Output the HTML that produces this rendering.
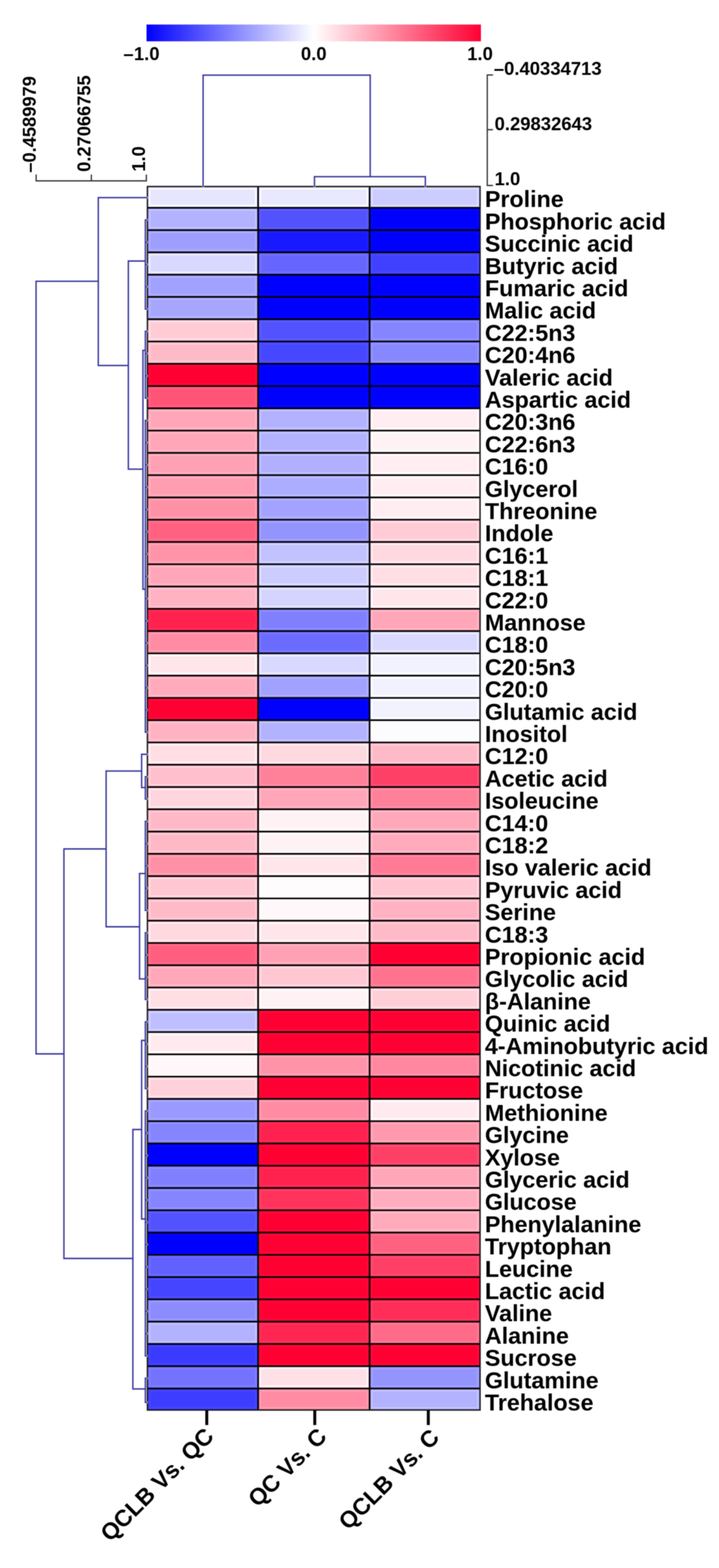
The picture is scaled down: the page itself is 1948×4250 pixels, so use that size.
<!DOCTYPE html>
<html><head><meta charset="utf-8"><title>Heatmap</title>
<style>
html,body{margin:0;padding:0;background:#fff;}
body{width:1948px;height:4250px;overflow:hidden;}
svg{display:block;filter:blur(1px);}
</style></head>
<body>
<svg width="1948" height="4250" viewBox="0 0 1948 4250">
<rect width="1948" height="4250" fill="#fff"/>
<defs><linearGradient id="cb" x1="0" y1="0" x2="1" y2="0"><stop offset="0" stop-color="#0000ff"/><stop offset="0.5" stop-color="#ffffff"/><stop offset="1" stop-color="#ff0033"/></linearGradient></defs>
<rect x="397" y="66.5" width="906" height="45.5" fill="url(#cb)"/>
<rect x="399.40" y="505.60" width="299.90" height="57.70" fill="#e6e6ff"/>
<rect x="699.30" y="505.60" width="302.10" height="57.70" fill="#e8e8ff"/>
<rect x="1001.40" y="505.60" width="299.20" height="57.70" fill="#ccccff"/>
<rect x="399.40" y="563.30" width="299.90" height="60.38" fill="#b2b2ff"/>
<rect x="699.30" y="563.30" width="302.10" height="60.38" fill="#5252ff"/>
<rect x="1001.40" y="563.30" width="299.20" height="60.38" fill="#0000ff"/>
<rect x="399.40" y="623.68" width="299.90" height="60.38" fill="#9e9eff"/>
<rect x="699.30" y="623.68" width="302.10" height="60.38" fill="#1919ff"/>
<rect x="1001.40" y="623.68" width="299.20" height="60.38" fill="#0000ff"/>
<rect x="399.40" y="684.06" width="299.90" height="60.38" fill="#d9d9ff"/>
<rect x="699.30" y="684.06" width="302.10" height="60.38" fill="#6666ff"/>
<rect x="1001.40" y="684.06" width="299.20" height="60.38" fill="#4040ff"/>
<rect x="399.40" y="744.44" width="299.90" height="60.38" fill="#a1a1ff"/>
<rect x="699.30" y="744.44" width="302.10" height="60.38" fill="#0000ff"/>
<rect x="1001.40" y="744.44" width="299.20" height="60.38" fill="#0000ff"/>
<rect x="399.40" y="804.82" width="299.90" height="60.38" fill="#a6a6ff"/>
<rect x="699.30" y="804.82" width="302.10" height="60.38" fill="#0000ff"/>
<rect x="1001.40" y="804.82" width="299.20" height="60.38" fill="#0000ff"/>
<rect x="399.40" y="865.20" width="299.90" height="60.38" fill="#ffccd6"/>
<rect x="699.30" y="865.20" width="302.10" height="60.38" fill="#5252ff"/>
<rect x="1001.40" y="865.20" width="299.20" height="60.38" fill="#8585ff"/>
<rect x="399.40" y="925.58" width="299.90" height="60.38" fill="#ffbac8"/>
<rect x="699.30" y="925.58" width="302.10" height="60.38" fill="#4747ff"/>
<rect x="1001.40" y="925.58" width="299.20" height="60.38" fill="#8787ff"/>
<rect x="399.40" y="985.96" width="299.90" height="60.38" fill="#ff0033"/>
<rect x="699.30" y="985.96" width="302.10" height="60.38" fill="#0000ff"/>
<rect x="1001.40" y="985.96" width="299.20" height="60.38" fill="#0000ff"/>
<rect x="399.40" y="1046.34" width="299.90" height="60.38" fill="#ff5476"/>
<rect x="699.30" y="1046.34" width="302.10" height="60.38" fill="#0000ff"/>
<rect x="1001.40" y="1046.34" width="299.20" height="60.38" fill="#0000ff"/>
<rect x="399.40" y="1106.72" width="299.90" height="60.38" fill="#ffa6b8"/>
<rect x="699.30" y="1106.72" width="302.10" height="60.38" fill="#b2b2ff"/>
<rect x="1001.40" y="1106.72" width="299.20" height="60.38" fill="#ffedf1"/>
<rect x="399.40" y="1167.10" width="299.90" height="60.38" fill="#ffa6b8"/>
<rect x="699.30" y="1167.10" width="302.10" height="60.38" fill="#b2b2ff"/>
<rect x="1001.40" y="1167.10" width="299.20" height="60.38" fill="#fff2f5"/>
<rect x="399.40" y="1227.48" width="299.90" height="60.38" fill="#ffa1b4"/>
<rect x="699.30" y="1227.48" width="302.10" height="60.38" fill="#b0b0ff"/>
<rect x="1001.40" y="1227.48" width="299.20" height="60.38" fill="#ffedf1"/>
<rect x="399.40" y="1287.86" width="299.90" height="60.38" fill="#ff9eb1"/>
<rect x="699.30" y="1287.86" width="302.10" height="60.38" fill="#adadff"/>
<rect x="1001.40" y="1287.86" width="299.20" height="60.38" fill="#ffedf1"/>
<rect x="399.40" y="1348.24" width="299.90" height="60.38" fill="#ff91a7"/>
<rect x="699.30" y="1348.24" width="302.10" height="60.38" fill="#a3a3ff"/>
<rect x="1001.40" y="1348.24" width="299.20" height="60.38" fill="#ffedf1"/>
<rect x="399.40" y="1408.62" width="299.90" height="60.38" fill="#ff6181"/>
<rect x="699.30" y="1408.62" width="302.10" height="60.38" fill="#9494ff"/>
<rect x="1001.40" y="1408.62" width="299.20" height="60.38" fill="#ffccd6"/>
<rect x="399.40" y="1469.00" width="299.90" height="60.38" fill="#ff94a9"/>
<rect x="699.30" y="1469.00" width="302.10" height="60.38" fill="#c2c2ff"/>
<rect x="1001.40" y="1469.00" width="299.20" height="60.38" fill="#ffd9e0"/>
<rect x="399.40" y="1529.38" width="299.90" height="60.38" fill="#ffa6b8"/>
<rect x="699.30" y="1529.38" width="302.10" height="60.38" fill="#ccccff"/>
<rect x="1001.40" y="1529.38" width="299.20" height="60.38" fill="#ffdee4"/>
<rect x="399.40" y="1589.76" width="299.90" height="60.38" fill="#ffb2c2"/>
<rect x="699.30" y="1589.76" width="302.10" height="60.38" fill="#d4d4ff"/>
<rect x="1001.40" y="1589.76" width="299.20" height="60.38" fill="#ffe6eb"/>
<rect x="399.40" y="1650.14" width="299.90" height="60.38" fill="#ff214e"/>
<rect x="699.30" y="1650.14" width="302.10" height="60.38" fill="#8080ff"/>
<rect x="1001.40" y="1650.14" width="299.20" height="60.38" fill="#ffa6b8"/>
<rect x="399.40" y="1710.52" width="299.90" height="60.38" fill="#ff8ca3"/>
<rect x="699.30" y="1710.52" width="302.10" height="60.38" fill="#6b6bff"/>
<rect x="1001.40" y="1710.52" width="299.20" height="60.38" fill="#d9d9ff"/>
<rect x="399.40" y="1770.90" width="299.90" height="60.38" fill="#ffe6eb"/>
<rect x="699.30" y="1770.90" width="302.10" height="60.38" fill="#d9d9ff"/>
<rect x="1001.40" y="1770.90" width="299.20" height="60.38" fill="#f2f2ff"/>
<rect x="399.40" y="1831.28" width="299.90" height="60.38" fill="#ffabbc"/>
<rect x="699.30" y="1831.28" width="302.10" height="60.38" fill="#a1a1ff"/>
<rect x="1001.40" y="1831.28" width="299.20" height="60.38" fill="#f2f2ff"/>
<rect x="399.40" y="1891.66" width="299.90" height="60.38" fill="#ff0033"/>
<rect x="699.30" y="1891.66" width="302.10" height="60.38" fill="#0000ff"/>
<rect x="1001.40" y="1891.66" width="299.20" height="60.38" fill="#f2f2ff"/>
<rect x="399.40" y="1952.04" width="299.90" height="60.38" fill="#ffb2c2"/>
<rect x="699.30" y="1952.04" width="302.10" height="60.38" fill="#b2b2ff"/>
<rect x="1001.40" y="1952.04" width="299.20" height="60.38" fill="#fcfcff"/>
<rect x="399.40" y="2012.42" width="299.90" height="60.38" fill="#ffdee4"/>
<rect x="699.30" y="2012.42" width="302.10" height="60.38" fill="#ffd9e0"/>
<rect x="1001.40" y="2012.42" width="299.20" height="60.38" fill="#ffbac8"/>
<rect x="399.40" y="2072.80" width="299.90" height="60.38" fill="#ffbfcc"/>
<rect x="699.30" y="2072.80" width="302.10" height="60.38" fill="#ff8099"/>
<rect x="1001.40" y="2072.80" width="299.20" height="60.38" fill="#ff4066"/>
<rect x="399.40" y="2133.18" width="299.90" height="60.38" fill="#ffd6de"/>
<rect x="699.30" y="2133.18" width="302.10" height="60.38" fill="#ffa6b8"/>
<rect x="1001.40" y="2133.18" width="299.20" height="60.38" fill="#ff8099"/>
<rect x="399.40" y="2193.56" width="299.90" height="60.38" fill="#ffb8c6"/>
<rect x="699.30" y="2193.56" width="302.10" height="60.38" fill="#fff2f5"/>
<rect x="1001.40" y="2193.56" width="299.20" height="60.38" fill="#ffa8ba"/>
<rect x="399.40" y="2253.94" width="299.90" height="60.38" fill="#ffb8c6"/>
<rect x="699.30" y="2253.94" width="302.10" height="60.38" fill="#fff2f5"/>
<rect x="1001.40" y="2253.94" width="299.20" height="60.38" fill="#ffabbc"/>
<rect x="399.40" y="2314.32" width="299.90" height="60.38" fill="#ff91a7"/>
<rect x="699.30" y="2314.32" width="302.10" height="60.38" fill="#ffe6eb"/>
<rect x="1001.40" y="2314.32" width="299.20" height="60.38" fill="#ff7a95"/>
<rect x="399.40" y="2374.70" width="299.90" height="60.38" fill="#ffc7d2"/>
<rect x="699.30" y="2374.70" width="302.10" height="60.38" fill="#fffcfd"/>
<rect x="1001.40" y="2374.70" width="299.20" height="60.38" fill="#ffc7d2"/>
<rect x="399.40" y="2435.08" width="299.90" height="60.38" fill="#ffbac8"/>
<rect x="699.30" y="2435.08" width="302.10" height="60.38" fill="#fff7f9"/>
<rect x="1001.40" y="2435.08" width="299.20" height="60.38" fill="#ffb2c2"/>
<rect x="399.40" y="2495.46" width="299.90" height="60.38" fill="#ffd9e0"/>
<rect x="699.30" y="2495.46" width="302.10" height="60.38" fill="#ffe6eb"/>
<rect x="1001.40" y="2495.46" width="299.20" height="60.38" fill="#ffbac8"/>
<rect x="399.40" y="2555.84" width="299.90" height="60.38" fill="#ff5e7e"/>
<rect x="699.30" y="2555.84" width="302.10" height="60.38" fill="#ffa1b4"/>
<rect x="1001.40" y="2555.84" width="299.20" height="60.38" fill="#ff0033"/>
<rect x="399.40" y="2616.22" width="299.90" height="60.38" fill="#ffa8ba"/>
<rect x="699.30" y="2616.22" width="302.10" height="60.38" fill="#ffc7d2"/>
<rect x="1001.40" y="2616.22" width="299.20" height="60.38" fill="#ff738f"/>
<rect x="399.40" y="2676.60" width="299.90" height="60.38" fill="#ffdee4"/>
<rect x="699.30" y="2676.60" width="302.10" height="60.38" fill="#fff2f5"/>
<rect x="1001.40" y="2676.60" width="299.20" height="60.38" fill="#ffcfd8"/>
<rect x="399.40" y="2736.98" width="299.90" height="60.38" fill="#bfbfff"/>
<rect x="699.30" y="2736.98" width="302.10" height="60.38" fill="#ff0033"/>
<rect x="1001.40" y="2736.98" width="299.20" height="60.38" fill="#ff0033"/>
<rect x="399.40" y="2797.36" width="299.90" height="60.38" fill="#ffebef"/>
<rect x="699.30" y="2797.36" width="302.10" height="60.38" fill="#ff0033"/>
<rect x="1001.40" y="2797.36" width="299.20" height="60.38" fill="#ff0033"/>
<rect x="399.40" y="2857.74" width="299.90" height="60.38" fill="#fff7f9"/>
<rect x="699.30" y="2857.74" width="302.10" height="60.38" fill="#ff94a9"/>
<rect x="1001.40" y="2857.74" width="299.20" height="60.38" fill="#ff879f"/>
<rect x="399.40" y="2918.12" width="299.90" height="60.38" fill="#ffd1da"/>
<rect x="699.30" y="2918.12" width="302.10" height="60.38" fill="#ff0033"/>
<rect x="1001.40" y="2918.12" width="299.20" height="60.38" fill="#ff0033"/>
<rect x="399.40" y="2978.50" width="299.90" height="60.38" fill="#9999ff"/>
<rect x="699.30" y="2978.50" width="302.10" height="60.38" fill="#ff8ca3"/>
<rect x="1001.40" y="2978.50" width="299.20" height="60.38" fill="#ffebef"/>
<rect x="399.40" y="3038.88" width="299.90" height="60.38" fill="#8585ff"/>
<rect x="699.30" y="3038.88" width="302.10" height="60.38" fill="#ff214e"/>
<rect x="1001.40" y="3038.88" width="299.20" height="60.38" fill="#ff99ad"/>
<rect x="399.40" y="3099.26" width="299.90" height="60.38" fill="#0000ff"/>
<rect x="699.30" y="3099.26" width="302.10" height="60.38" fill="#ff0033"/>
<rect x="1001.40" y="3099.26" width="299.20" height="60.38" fill="#ff4066"/>
<rect x="399.40" y="3159.64" width="299.90" height="60.38" fill="#8080ff"/>
<rect x="699.30" y="3159.64" width="302.10" height="60.38" fill="#ff214e"/>
<rect x="1001.40" y="3159.64" width="299.20" height="60.38" fill="#ffa6b8"/>
<rect x="399.40" y="3220.02" width="299.90" height="60.38" fill="#8585ff"/>
<rect x="699.30" y="3220.02" width="302.10" height="60.38" fill="#ff335c"/>
<rect x="1001.40" y="3220.02" width="299.20" height="60.38" fill="#ffadbe"/>
<rect x="399.40" y="3280.40" width="299.90" height="60.38" fill="#5252ff"/>
<rect x="699.30" y="3280.40" width="302.10" height="60.38" fill="#ff0033"/>
<rect x="1001.40" y="3280.40" width="299.20" height="60.38" fill="#ffabbc"/>
<rect x="399.40" y="3340.78" width="299.90" height="60.38" fill="#0000ff"/>
<rect x="699.30" y="3340.78" width="302.10" height="60.38" fill="#ff0033"/>
<rect x="1001.40" y="3340.78" width="299.20" height="60.38" fill="#ff6181"/>
<rect x="399.40" y="3401.16" width="299.90" height="60.38" fill="#6161ff"/>
<rect x="699.30" y="3401.16" width="302.10" height="60.38" fill="#ff0033"/>
<rect x="1001.40" y="3401.16" width="299.20" height="60.38" fill="#ff4066"/>
<rect x="399.40" y="3461.54" width="299.90" height="60.38" fill="#4545ff"/>
<rect x="699.30" y="3461.54" width="302.10" height="60.38" fill="#ff0033"/>
<rect x="1001.40" y="3461.54" width="299.20" height="60.38" fill="#ff0033"/>
<rect x="399.40" y="3521.92" width="299.90" height="60.38" fill="#8c8cff"/>
<rect x="699.30" y="3521.92" width="302.10" height="60.38" fill="#ff0033"/>
<rect x="1001.40" y="3521.92" width="299.20" height="60.38" fill="#ff2e58"/>
<rect x="399.40" y="3582.30" width="299.90" height="60.38" fill="#b2b2ff"/>
<rect x="699.30" y="3582.30" width="302.10" height="60.38" fill="#ff2652"/>
<rect x="1001.40" y="3582.30" width="299.20" height="60.38" fill="#ff6b89"/>
<rect x="399.40" y="3642.68" width="299.90" height="60.38" fill="#3b3bff"/>
<rect x="699.30" y="3642.68" width="302.10" height="60.38" fill="#ff0033"/>
<rect x="1001.40" y="3642.68" width="299.20" height="60.38" fill="#ff0033"/>
<rect x="399.40" y="3703.06" width="299.90" height="60.38" fill="#7373ff"/>
<rect x="699.30" y="3703.06" width="302.10" height="60.38" fill="#ffe0e7"/>
<rect x="1001.40" y="3703.06" width="299.20" height="60.38" fill="#9494ff"/>
<rect x="399.40" y="3763.44" width="299.90" height="58.36" fill="#3d3dff"/>
<rect x="699.30" y="3763.44" width="302.10" height="58.36" fill="#ff8ca3"/>
<rect x="1001.40" y="3763.44" width="299.20" height="58.36" fill="#b2b2ff"/>
<rect x="406.00" y="512.20" width="286.70" height="44.50" fill="none" stroke="#fdfdff" stroke-width="3.4"/>
<rect x="705.90" y="512.20" width="288.90" height="44.50" fill="none" stroke="#ffffff" stroke-width="3.4"/>
<rect x="1008.00" y="512.20" width="286.00" height="44.50" fill="none" stroke="#e1e1ff" stroke-width="3.4"/>
<rect x="406.00" y="569.90" width="286.70" height="47.18" fill="none" stroke="#c5c5ff" stroke-width="3.4"/>
<rect x="705.90" y="569.90" width="288.90" height="47.18" fill="none" stroke="#5d5dff" stroke-width="3.4"/>
<rect x="1008.00" y="569.90" width="286.00" height="47.18" fill="none" stroke="#0404ff" stroke-width="3.4"/>
<rect x="406.00" y="630.28" width="286.70" height="47.18" fill="none" stroke="#afafff" stroke-width="3.4"/>
<rect x="705.90" y="630.28" width="288.90" height="47.18" fill="none" stroke="#1f1fff" stroke-width="3.4"/>
<rect x="1008.00" y="630.28" width="286.00" height="47.18" fill="none" stroke="#0404ff" stroke-width="3.4"/>
<rect x="406.00" y="690.66" width="286.70" height="47.18" fill="none" stroke="#efefff" stroke-width="3.4"/>
<rect x="705.90" y="690.66" width="288.90" height="47.18" fill="none" stroke="#7272ff" stroke-width="3.4"/>
<rect x="1008.00" y="690.66" width="286.00" height="47.18" fill="none" stroke="#4949ff" stroke-width="3.4"/>
<rect x="406.00" y="751.04" width="286.70" height="47.18" fill="none" stroke="#b2b2ff" stroke-width="3.4"/>
<rect x="705.90" y="751.04" width="288.90" height="47.18" fill="none" stroke="#0404ff" stroke-width="3.4"/>
<rect x="1008.00" y="751.04" width="286.00" height="47.18" fill="none" stroke="#0404ff" stroke-width="3.4"/>
<rect x="406.00" y="811.42" width="286.70" height="47.18" fill="none" stroke="#b8b8ff" stroke-width="3.4"/>
<rect x="705.90" y="811.42" width="288.90" height="47.18" fill="none" stroke="#0404ff" stroke-width="3.4"/>
<rect x="1008.00" y="811.42" width="286.00" height="47.18" fill="none" stroke="#0404ff" stroke-width="3.4"/>
<rect x="406.00" y="871.80" width="286.70" height="47.18" fill="none" stroke="#ffe2ec" stroke-width="3.4"/>
<rect x="705.90" y="871.80" width="288.90" height="47.18" fill="none" stroke="#5d5dff" stroke-width="3.4"/>
<rect x="1008.00" y="871.80" width="286.00" height="47.18" fill="none" stroke="#9494ff" stroke-width="3.4"/>
<rect x="406.00" y="932.18" width="286.70" height="47.18" fill="none" stroke="#ffcfdd" stroke-width="3.4"/>
<rect x="705.90" y="932.18" width="288.90" height="47.18" fill="none" stroke="#5151ff" stroke-width="3.4"/>
<rect x="1008.00" y="932.18" width="286.00" height="47.18" fill="none" stroke="#9696ff" stroke-width="3.4"/>
<rect x="406.00" y="992.56" width="286.70" height="47.18" fill="none" stroke="#ff093c" stroke-width="3.4"/>
<rect x="705.90" y="992.56" width="288.90" height="47.18" fill="none" stroke="#0404ff" stroke-width="3.4"/>
<rect x="1008.00" y="992.56" width="286.00" height="47.18" fill="none" stroke="#0404ff" stroke-width="3.4"/>
<rect x="406.00" y="1052.94" width="286.70" height="47.18" fill="none" stroke="#ff6284" stroke-width="3.4"/>
<rect x="705.90" y="1052.94" width="288.90" height="47.18" fill="none" stroke="#0404ff" stroke-width="3.4"/>
<rect x="1008.00" y="1052.94" width="286.00" height="47.18" fill="none" stroke="#0404ff" stroke-width="3.4"/>
<rect x="406.00" y="1113.32" width="286.70" height="47.18" fill="none" stroke="#ffb9cb" stroke-width="3.4"/>
<rect x="705.90" y="1113.32" width="288.90" height="47.18" fill="none" stroke="#c5c5ff" stroke-width="3.4"/>
<rect x="1008.00" y="1113.32" width="286.00" height="47.18" fill="none" stroke="#ffffff" stroke-width="3.4"/>
<rect x="406.00" y="1173.70" width="286.70" height="47.18" fill="none" stroke="#ffb9cb" stroke-width="3.4"/>
<rect x="705.90" y="1173.70" width="288.90" height="47.18" fill="none" stroke="#c5c5ff" stroke-width="3.4"/>
<rect x="1008.00" y="1173.70" width="286.00" height="47.18" fill="none" stroke="#ffffff" stroke-width="3.4"/>
<rect x="406.00" y="1234.08" width="286.70" height="47.18" fill="none" stroke="#ffb4c7" stroke-width="3.4"/>
<rect x="705.90" y="1234.08" width="288.90" height="47.18" fill="none" stroke="#c3c3ff" stroke-width="3.4"/>
<rect x="1008.00" y="1234.08" width="286.00" height="47.18" fill="none" stroke="#ffffff" stroke-width="3.4"/>
<rect x="406.00" y="1294.46" width="286.70" height="47.18" fill="none" stroke="#ffb1c4" stroke-width="3.4"/>
<rect x="705.90" y="1294.46" width="288.90" height="47.18" fill="none" stroke="#bfbfff" stroke-width="3.4"/>
<rect x="1008.00" y="1294.46" width="286.00" height="47.18" fill="none" stroke="#ffffff" stroke-width="3.4"/>
<rect x="406.00" y="1354.84" width="286.70" height="47.18" fill="none" stroke="#ffa3b9" stroke-width="3.4"/>
<rect x="705.90" y="1354.84" width="288.90" height="47.18" fill="none" stroke="#b4b4ff" stroke-width="3.4"/>
<rect x="1008.00" y="1354.84" width="286.00" height="47.18" fill="none" stroke="#ffffff" stroke-width="3.4"/>
<rect x="406.00" y="1415.22" width="286.70" height="47.18" fill="none" stroke="#ff7090" stroke-width="3.4"/>
<rect x="705.90" y="1415.22" width="288.90" height="47.18" fill="none" stroke="#a4a4ff" stroke-width="3.4"/>
<rect x="1008.00" y="1415.22" width="286.00" height="47.18" fill="none" stroke="#ffe2ec" stroke-width="3.4"/>
<rect x="406.00" y="1475.60" width="286.70" height="47.18" fill="none" stroke="#ffa6bb" stroke-width="3.4"/>
<rect x="705.90" y="1475.60" width="288.90" height="47.18" fill="none" stroke="#d6d6ff" stroke-width="3.4"/>
<rect x="1008.00" y="1475.60" width="286.00" height="47.18" fill="none" stroke="#fff0f7" stroke-width="3.4"/>
<rect x="406.00" y="1535.98" width="286.70" height="47.18" fill="none" stroke="#ffb9cb" stroke-width="3.4"/>
<rect x="705.90" y="1535.98" width="288.90" height="47.18" fill="none" stroke="#e1e1ff" stroke-width="3.4"/>
<rect x="1008.00" y="1535.98" width="286.00" height="47.18" fill="none" stroke="#fff5fb" stroke-width="3.4"/>
<rect x="406.00" y="1596.36" width="286.70" height="47.18" fill="none" stroke="#ffc6d6" stroke-width="3.4"/>
<rect x="705.90" y="1596.36" width="288.90" height="47.18" fill="none" stroke="#eaeaff" stroke-width="3.4"/>
<rect x="1008.00" y="1596.36" width="286.00" height="47.18" fill="none" stroke="#fffeff" stroke-width="3.4"/>
<rect x="406.00" y="1656.74" width="286.70" height="47.18" fill="none" stroke="#ff2c59" stroke-width="3.4"/>
<rect x="705.90" y="1656.74" width="288.90" height="47.18" fill="none" stroke="#8f8fff" stroke-width="3.4"/>
<rect x="1008.00" y="1656.74" width="286.00" height="47.18" fill="none" stroke="#ffb9cb" stroke-width="3.4"/>
<rect x="406.00" y="1717.12" width="286.70" height="47.18" fill="none" stroke="#ff9eb5" stroke-width="3.4"/>
<rect x="705.90" y="1717.12" width="288.90" height="47.18" fill="none" stroke="#7878ff" stroke-width="3.4"/>
<rect x="1008.00" y="1717.12" width="286.00" height="47.18" fill="none" stroke="#efefff" stroke-width="3.4"/>
<rect x="406.00" y="1777.50" width="286.70" height="47.18" fill="none" stroke="#fffeff" stroke-width="3.4"/>
<rect x="705.90" y="1777.50" width="288.90" height="47.18" fill="none" stroke="#efefff" stroke-width="3.4"/>
<rect x="1008.00" y="1777.50" width="286.00" height="47.18" fill="none" stroke="#ffffff" stroke-width="3.4"/>
<rect x="406.00" y="1837.88" width="286.70" height="47.18" fill="none" stroke="#ffbfd0" stroke-width="3.4"/>
<rect x="705.90" y="1837.88" width="288.90" height="47.18" fill="none" stroke="#b2b2ff" stroke-width="3.4"/>
<rect x="1008.00" y="1837.88" width="286.00" height="47.18" fill="none" stroke="#ffffff" stroke-width="3.4"/>
<rect x="406.00" y="1898.26" width="286.70" height="47.18" fill="none" stroke="#ff093c" stroke-width="3.4"/>
<rect x="705.90" y="1898.26" width="288.90" height="47.18" fill="none" stroke="#0404ff" stroke-width="3.4"/>
<rect x="1008.00" y="1898.26" width="286.00" height="47.18" fill="none" stroke="#ffffff" stroke-width="3.4"/>
<rect x="406.00" y="1958.64" width="286.70" height="47.18" fill="none" stroke="#ffc6d6" stroke-width="3.4"/>
<rect x="705.90" y="1958.64" width="288.90" height="47.18" fill="none" stroke="#c5c5ff" stroke-width="3.4"/>
<rect x="1008.00" y="1958.64" width="286.00" height="47.18" fill="none" stroke="#ffffff" stroke-width="3.4"/>
<rect x="406.00" y="2019.02" width="286.70" height="47.18" fill="none" stroke="#fff5fb" stroke-width="3.4"/>
<rect x="705.90" y="2019.02" width="288.90" height="47.18" fill="none" stroke="#fff0f7" stroke-width="3.4"/>
<rect x="1008.00" y="2019.02" width="286.00" height="47.18" fill="none" stroke="#ffcfdd" stroke-width="3.4"/>
<rect x="406.00" y="2079.40" width="286.70" height="47.18" fill="none" stroke="#ffd4e1" stroke-width="3.4"/>
<rect x="705.90" y="2079.40" width="288.90" height="47.18" fill="none" stroke="#ff91aa" stroke-width="3.4"/>
<rect x="1008.00" y="2079.40" width="286.00" height="47.18" fill="none" stroke="#ff4d73" stroke-width="3.4"/>
<rect x="406.00" y="2139.78" width="286.70" height="47.18" fill="none" stroke="#ffedf5" stroke-width="3.4"/>
<rect x="705.90" y="2139.78" width="288.90" height="47.18" fill="none" stroke="#ffb9cb" stroke-width="3.4"/>
<rect x="1008.00" y="2139.78" width="286.00" height="47.18" fill="none" stroke="#ff91aa" stroke-width="3.4"/>
<rect x="406.00" y="2200.16" width="286.70" height="47.18" fill="none" stroke="#ffcddb" stroke-width="3.4"/>
<rect x="705.90" y="2200.16" width="288.90" height="47.18" fill="none" stroke="#ffffff" stroke-width="3.4"/>
<rect x="1008.00" y="2200.16" width="286.00" height="47.18" fill="none" stroke="#ffbcce" stroke-width="3.4"/>
<rect x="406.00" y="2260.54" width="286.70" height="47.18" fill="none" stroke="#ffcddb" stroke-width="3.4"/>
<rect x="705.90" y="2260.54" width="288.90" height="47.18" fill="none" stroke="#ffffff" stroke-width="3.4"/>
<rect x="1008.00" y="2260.54" width="286.00" height="47.18" fill="none" stroke="#ffbfd0" stroke-width="3.4"/>
<rect x="406.00" y="2320.92" width="286.70" height="47.18" fill="none" stroke="#ffa3b9" stroke-width="3.4"/>
<rect x="705.90" y="2320.92" width="288.90" height="47.18" fill="none" stroke="#fffeff" stroke-width="3.4"/>
<rect x="1008.00" y="2320.92" width="286.00" height="47.18" fill="none" stroke="#ff8ba6" stroke-width="3.4"/>
<rect x="406.00" y="2381.30" width="286.70" height="47.18" fill="none" stroke="#ffdde8" stroke-width="3.4"/>
<rect x="705.90" y="2381.30" width="288.90" height="47.18" fill="none" stroke="#ffffff" stroke-width="3.4"/>
<rect x="1008.00" y="2381.30" width="286.00" height="47.18" fill="none" stroke="#ffdde8" stroke-width="3.4"/>
<rect x="406.00" y="2441.68" width="286.70" height="47.18" fill="none" stroke="#ffcfdd" stroke-width="3.4"/>
<rect x="705.90" y="2441.68" width="288.90" height="47.18" fill="none" stroke="#ffffff" stroke-width="3.4"/>
<rect x="1008.00" y="2441.68" width="286.00" height="47.18" fill="none" stroke="#ffc6d6" stroke-width="3.4"/>
<rect x="406.00" y="2502.06" width="286.70" height="47.18" fill="none" stroke="#fff0f7" stroke-width="3.4"/>
<rect x="705.90" y="2502.06" width="288.90" height="47.18" fill="none" stroke="#fffeff" stroke-width="3.4"/>
<rect x="1008.00" y="2502.06" width="286.00" height="47.18" fill="none" stroke="#ffcfdd" stroke-width="3.4"/>
<rect x="406.00" y="2562.44" width="286.70" height="47.18" fill="none" stroke="#ff6d8d" stroke-width="3.4"/>
<rect x="705.90" y="2562.44" width="288.90" height="47.18" fill="none" stroke="#ffb4c7" stroke-width="3.4"/>
<rect x="1008.00" y="2562.44" width="286.00" height="47.18" fill="none" stroke="#ff093c" stroke-width="3.4"/>
<rect x="406.00" y="2622.82" width="286.70" height="47.18" fill="none" stroke="#ffbcce" stroke-width="3.4"/>
<rect x="705.90" y="2622.82" width="288.90" height="47.18" fill="none" stroke="#ffdde8" stroke-width="3.4"/>
<rect x="1008.00" y="2622.82" width="286.00" height="47.18" fill="none" stroke="#ff839f" stroke-width="3.4"/>
<rect x="406.00" y="2683.20" width="286.70" height="47.18" fill="none" stroke="#fff5fb" stroke-width="3.4"/>
<rect x="705.90" y="2683.20" width="288.90" height="47.18" fill="none" stroke="#ffffff" stroke-width="3.4"/>
<rect x="1008.00" y="2683.20" width="286.00" height="47.18" fill="none" stroke="#ffe5ee" stroke-width="3.4"/>
<rect x="406.00" y="2743.58" width="286.70" height="47.18" fill="none" stroke="#d3d3ff" stroke-width="3.4"/>
<rect x="705.90" y="2743.58" width="288.90" height="47.18" fill="none" stroke="#ff093c" stroke-width="3.4"/>
<rect x="1008.00" y="2743.58" width="286.00" height="47.18" fill="none" stroke="#ff093c" stroke-width="3.4"/>
<rect x="406.00" y="2803.96" width="286.70" height="47.18" fill="none" stroke="#ffffff" stroke-width="3.4"/>
<rect x="705.90" y="2803.96" width="288.90" height="47.18" fill="none" stroke="#ff093c" stroke-width="3.4"/>
<rect x="1008.00" y="2803.96" width="286.00" height="47.18" fill="none" stroke="#ff093c" stroke-width="3.4"/>
<rect x="406.00" y="2864.34" width="286.70" height="47.18" fill="none" stroke="#ffffff" stroke-width="3.4"/>
<rect x="705.90" y="2864.34" width="288.90" height="47.18" fill="none" stroke="#ffa6bb" stroke-width="3.4"/>
<rect x="1008.00" y="2864.34" width="286.00" height="47.18" fill="none" stroke="#ff98b0" stroke-width="3.4"/>
<rect x="406.00" y="2924.72" width="286.70" height="47.18" fill="none" stroke="#ffe7f0" stroke-width="3.4"/>
<rect x="705.90" y="2924.72" width="288.90" height="47.18" fill="none" stroke="#ff093c" stroke-width="3.4"/>
<rect x="1008.00" y="2924.72" width="286.00" height="47.18" fill="none" stroke="#ff093c" stroke-width="3.4"/>
<rect x="406.00" y="2985.10" width="286.70" height="47.18" fill="none" stroke="#aaaaff" stroke-width="3.4"/>
<rect x="705.90" y="2985.10" width="288.90" height="47.18" fill="none" stroke="#ff9eb5" stroke-width="3.4"/>
<rect x="1008.00" y="2985.10" width="286.00" height="47.18" fill="none" stroke="#ffffff" stroke-width="3.4"/>
<rect x="406.00" y="3045.48" width="286.70" height="47.18" fill="none" stroke="#9494ff" stroke-width="3.4"/>
<rect x="705.90" y="3045.48" width="288.90" height="47.18" fill="none" stroke="#ff2c59" stroke-width="3.4"/>
<rect x="1008.00" y="3045.48" width="286.00" height="47.18" fill="none" stroke="#ffacc0" stroke-width="3.4"/>
<rect x="406.00" y="3105.86" width="286.70" height="47.18" fill="none" stroke="#0404ff" stroke-width="3.4"/>
<rect x="705.90" y="3105.86" width="288.90" height="47.18" fill="none" stroke="#ff093c" stroke-width="3.4"/>
<rect x="1008.00" y="3105.86" width="286.00" height="47.18" fill="none" stroke="#ff4d73" stroke-width="3.4"/>
<rect x="406.00" y="3166.24" width="286.70" height="47.18" fill="none" stroke="#8f8fff" stroke-width="3.4"/>
<rect x="705.90" y="3166.24" width="288.90" height="47.18" fill="none" stroke="#ff2c59" stroke-width="3.4"/>
<rect x="1008.00" y="3166.24" width="286.00" height="47.18" fill="none" stroke="#ffb9cb" stroke-width="3.4"/>
<rect x="406.00" y="3226.62" width="286.70" height="47.18" fill="none" stroke="#9494ff" stroke-width="3.4"/>
<rect x="705.90" y="3226.62" width="288.90" height="47.18" fill="none" stroke="#ff3f68" stroke-width="3.4"/>
<rect x="1008.00" y="3226.62" width="286.00" height="47.18" fill="none" stroke="#ffc1d2" stroke-width="3.4"/>
<rect x="406.00" y="3287.00" width="286.70" height="47.18" fill="none" stroke="#5d5dff" stroke-width="3.4"/>
<rect x="705.90" y="3287.00" width="288.90" height="47.18" fill="none" stroke="#ff093c" stroke-width="3.4"/>
<rect x="1008.00" y="3287.00" width="286.00" height="47.18" fill="none" stroke="#ffbfd0" stroke-width="3.4"/>
<rect x="406.00" y="3347.38" width="286.70" height="47.18" fill="none" stroke="#0404ff" stroke-width="3.4"/>
<rect x="705.90" y="3347.38" width="288.90" height="47.18" fill="none" stroke="#ff093c" stroke-width="3.4"/>
<rect x="1008.00" y="3347.38" width="286.00" height="47.18" fill="none" stroke="#ff7090" stroke-width="3.4"/>
<rect x="406.00" y="3407.76" width="286.70" height="47.18" fill="none" stroke="#6d6dff" stroke-width="3.4"/>
<rect x="705.90" y="3407.76" width="288.90" height="47.18" fill="none" stroke="#ff093c" stroke-width="3.4"/>
<rect x="1008.00" y="3407.76" width="286.00" height="47.18" fill="none" stroke="#ff4d73" stroke-width="3.4"/>
<rect x="406.00" y="3468.14" width="286.70" height="47.18" fill="none" stroke="#4f4fff" stroke-width="3.4"/>
<rect x="705.90" y="3468.14" width="288.90" height="47.18" fill="none" stroke="#ff093c" stroke-width="3.4"/>
<rect x="1008.00" y="3468.14" width="286.00" height="47.18" fill="none" stroke="#ff093c" stroke-width="3.4"/>
<rect x="406.00" y="3528.52" width="286.70" height="47.18" fill="none" stroke="#9c9cff" stroke-width="3.4"/>
<rect x="705.90" y="3528.52" width="288.90" height="47.18" fill="none" stroke="#ff093c" stroke-width="3.4"/>
<rect x="1008.00" y="3528.52" width="286.00" height="47.18" fill="none" stroke="#ff3a64" stroke-width="3.4"/>
<rect x="406.00" y="3588.90" width="286.70" height="47.18" fill="none" stroke="#c5c5ff" stroke-width="3.4"/>
<rect x="705.90" y="3588.90" width="288.90" height="47.18" fill="none" stroke="#ff315d" stroke-width="3.4"/>
<rect x="1008.00" y="3588.90" width="286.00" height="47.18" fill="none" stroke="#ff7b99" stroke-width="3.4"/>
<rect x="406.00" y="3649.28" width="286.70" height="47.18" fill="none" stroke="#4444ff" stroke-width="3.4"/>
<rect x="705.90" y="3649.28" width="288.90" height="47.18" fill="none" stroke="#ff093c" stroke-width="3.4"/>
<rect x="1008.00" y="3649.28" width="286.00" height="47.18" fill="none" stroke="#ff093c" stroke-width="3.4"/>
<rect x="406.00" y="3709.66" width="286.70" height="47.18" fill="none" stroke="#8080ff" stroke-width="3.4"/>
<rect x="705.90" y="3709.66" width="288.90" height="47.18" fill="none" stroke="#fff7fe" stroke-width="3.4"/>
<rect x="1008.00" y="3709.66" width="286.00" height="47.18" fill="none" stroke="#a4a4ff" stroke-width="3.4"/>
<rect x="406.00" y="3770.04" width="286.70" height="45.16" fill="none" stroke="#4646ff" stroke-width="3.4"/>
<rect x="705.90" y="3770.04" width="288.90" height="45.16" fill="none" stroke="#ff9eb5" stroke-width="3.4"/>
<rect x="1008.00" y="3770.04" width="286.00" height="45.16" fill="none" stroke="#c5c5ff" stroke-width="3.4"/>
<path d="M699.30 505.60V3821.80M1001.40 505.60V3821.80M399.40 563.30H1300.60M399.40 623.68H1300.60M399.40 684.06H1300.60M399.40 744.44H1300.60M399.40 804.82H1300.60M399.40 865.20H1300.60M399.40 925.58H1300.60M399.40 985.96H1300.60M399.40 1046.34H1300.60M399.40 1106.72H1300.60M399.40 1167.10H1300.60M399.40 1227.48H1300.60M399.40 1287.86H1300.60M399.40 1348.24H1300.60M399.40 1408.62H1300.60M399.40 1469.00H1300.60M399.40 1529.38H1300.60M399.40 1589.76H1300.60M399.40 1650.14H1300.60M399.40 1710.52H1300.60M399.40 1770.90H1300.60M399.40 1831.28H1300.60M399.40 1891.66H1300.60M399.40 1952.04H1300.60M399.40 2012.42H1300.60M399.40 2072.80H1300.60M399.40 2133.18H1300.60M399.40 2193.56H1300.60M399.40 2253.94H1300.60M399.40 2314.32H1300.60M399.40 2374.70H1300.60M399.40 2435.08H1300.60M399.40 2495.46H1300.60M399.40 2555.84H1300.60M399.40 2616.22H1300.60M399.40 2676.60H1300.60M399.40 2736.98H1300.60M399.40 2797.36H1300.60M399.40 2857.74H1300.60M399.40 2918.12H1300.60M399.40 2978.50H1300.60M399.40 3038.88H1300.60M399.40 3099.26H1300.60M399.40 3159.64H1300.60M399.40 3220.02H1300.60M399.40 3280.40H1300.60M399.40 3340.78H1300.60M399.40 3401.16H1300.60M399.40 3461.54H1300.60M399.40 3521.92H1300.60M399.40 3582.30H1300.60M399.40 3642.68H1300.60M399.40 3703.06H1300.60M399.40 3763.44H1300.60" stroke="#000" stroke-width="4.4" fill="none"/>
<rect x="399.40" y="505.60" width="901.20" height="3316.20" stroke="#1a1a1a" stroke-width="3.8" fill="none"/>
<path d="M550.3 203.7V505.6M550.3 203.7H1003.0M1003.0 203.7V478.8M852.0 478.8H1152.4M852.0 478.8V505.6M1152.4 478.8V505.6M97.7 762.4V2856.5M97.7 762.4H266.3M97.7 2856.5H173.2M266.3 535.7V990.7M266.3 535.7H398.0M266.3 990.7H347.7M347.7 707.5V1271.7M347.7 707.5H393.6M347.7 1271.7H387.3M387.3 949.7V1597.0M387.3 949.7H393.6M387.3 1597.0H393.6M173.2 2301.0V3411.0M173.2 2301.0H287.5M173.2 3411.0H360.0M287.5 2089.8V2512.0M287.5 2089.8H383.7M287.5 2512.0H378.1M383.7 2044.5V2134.6M383.7 2044.5H398.0M383.7 2134.6H393.6M378.1 2367.7V2653.4M378.1 2367.7H393.7M378.1 2653.4H393.7M360.0 3061.5V3764.7M360.0 3061.5H383.7M360.0 3764.7H393.4M383.7 2820.0V3304.0M383.7 2820.0H393.7M383.7 3304.0H394.5M393.8 596.1V837.6M393.8 596.1H398.0M393.8 656.5H398.0M393.8 716.8H398.0M393.8 777.2H398.0M393.8 837.6H398.0M393.8 898.0V1079.1M393.8 898.0H398.0M393.8 958.3H398.0M393.8 1018.7H398.0M393.8 1079.1H398.0M393.8 1139.5V1984.7M393.8 1139.5H398.0M393.8 1199.8H398.0M393.8 1260.2H398.0M393.8 1320.6H398.0M393.8 1381.0H398.0M393.8 1441.3H398.0M393.8 1501.7H398.0M393.8 1562.1H398.0M393.8 1622.5H398.0M393.8 1682.8H398.0M393.8 1743.2H398.0M393.8 1803.6H398.0M393.8 1864.0H398.0M393.8 1924.3H398.0M393.8 1984.7H398.0M393.8 2105.4V2165.8M393.8 2105.4H398.0M393.8 2165.8H398.0M393.8 2226.2V2467.7M393.8 2226.2H398.0M393.8 2286.6H398.0M393.8 2346.9H398.0M393.8 2407.3H398.0M393.8 2467.7H398.0M393.8 2528.1V2709.2M393.8 2528.1H398.0M393.8 2588.4H398.0M393.8 2648.8H398.0M393.8 2709.2H398.0M393.8 2769.6V2950.7M393.8 2769.6H398.0M393.8 2829.9H398.0M393.8 2890.3H398.0M393.8 2950.7H398.0M393.8 3011.1V3675.2M393.8 3011.1H398.0M393.8 3071.4H398.0M393.8 3131.8H398.0M393.8 3192.2H398.0M393.8 3252.6H398.0M393.8 3312.9H398.0M393.8 3373.3H398.0M393.8 3433.7H398.0M393.8 3494.1H398.0M393.8 3554.4H398.0M393.8 3614.8H398.0M393.8 3675.2H398.0M393.8 3735.6V3801.0M393.8 3735.6H398.0M393.8 3801.0H398.0" stroke="#dcdcf0" stroke-width="5.4" fill="none" stroke-linecap="square"/>
<path d="M550.3 203.7V505.6M550.3 203.7H1003.0M1003.0 203.7V478.8M852.0 478.8H1152.4M852.0 478.8V505.6M1152.4 478.8V505.6M97.7 762.4V2856.5M97.7 762.4H266.3M97.7 2856.5H173.2M266.3 535.7V990.7M266.3 535.7H398.0M266.3 990.7H347.7M347.7 707.5V1271.7M347.7 707.5H393.6M347.7 1271.7H387.3M387.3 949.7V1597.0M387.3 949.7H393.6M387.3 1597.0H393.6M173.2 2301.0V3411.0M173.2 2301.0H287.5M173.2 3411.0H360.0M287.5 2089.8V2512.0M287.5 2089.8H383.7M287.5 2512.0H378.1M383.7 2044.5V2134.6M383.7 2044.5H398.0M383.7 2134.6H393.6M378.1 2367.7V2653.4M378.1 2367.7H393.7M378.1 2653.4H393.7M360.0 3061.5V3764.7M360.0 3061.5H383.7M360.0 3764.7H393.4M383.7 2820.0V3304.0M383.7 2820.0H393.7M383.7 3304.0H394.5M393.8 596.1V837.6M393.8 596.1H398.0M393.8 656.5H398.0M393.8 716.8H398.0M393.8 777.2H398.0M393.8 837.6H398.0M393.8 898.0V1079.1M393.8 898.0H398.0M393.8 958.3H398.0M393.8 1018.7H398.0M393.8 1079.1H398.0M393.8 1139.5V1984.7M393.8 1139.5H398.0M393.8 1199.8H398.0M393.8 1260.2H398.0M393.8 1320.6H398.0M393.8 1381.0H398.0M393.8 1441.3H398.0M393.8 1501.7H398.0M393.8 1562.1H398.0M393.8 1622.5H398.0M393.8 1682.8H398.0M393.8 1743.2H398.0M393.8 1803.6H398.0M393.8 1864.0H398.0M393.8 1924.3H398.0M393.8 1984.7H398.0M393.8 2105.4V2165.8M393.8 2105.4H398.0M393.8 2165.8H398.0M393.8 2226.2V2467.7M393.8 2226.2H398.0M393.8 2286.6H398.0M393.8 2346.9H398.0M393.8 2407.3H398.0M393.8 2467.7H398.0M393.8 2528.1V2709.2M393.8 2528.1H398.0M393.8 2588.4H398.0M393.8 2648.8H398.0M393.8 2709.2H398.0M393.8 2769.6V2950.7M393.8 2769.6H398.0M393.8 2829.9H398.0M393.8 2890.3H398.0M393.8 2950.7H398.0M393.8 3011.1V3675.2M393.8 3011.1H398.0M393.8 3071.4H398.0M393.8 3131.8H398.0M393.8 3192.2H398.0M393.8 3252.6H398.0M393.8 3312.9H398.0M393.8 3373.3H398.0M393.8 3433.7H398.0M393.8 3494.1H398.0M393.8 3554.4H398.0M393.8 3614.8H398.0M393.8 3675.2H398.0M393.8 3735.6V3801.0M393.8 3735.6H398.0M393.8 3801.0H398.0" stroke="#303098" stroke-width="3.3" fill="none" stroke-linecap="square"/>
<path d="M1335.6 203.3H1320.2V502.7H1335.6M1320.2 351.5H1335.6M97.9 473V490.2H396.5V473M247.5 473V490.2" stroke="#333333" stroke-width="3.4" fill="none"/>
<path d="M560.2 3823V3862.5M852.8 3823V3862.5M1160.4 3823V3862.5" stroke="#000" stroke-width="8" fill="none"/>
<text x="397.5" y="163" text-anchor="middle" style="font-family:'Liberation Sans',Arial,sans-serif;font-weight:bold;font-size:50px">1.0</text>
<text x="362" y="163" text-anchor="end" style="font-family:'Liberation Sans',Arial,sans-serif;font-weight:bold;font-size:50px">–</text>
<text x="850" y="163" text-anchor="middle" style="font-family:'Liberation Sans',Arial,sans-serif;font-weight:bold;font-size:50px">0.0</text>
<text x="1300.5" y="163" text-anchor="middle" style="font-family:'Liberation Sans',Arial,sans-serif;font-weight:bold;font-size:50px">1.0</text>
<text x="1338" y="203.3" style="font-family:'Liberation Sans',Arial,sans-serif;font-weight:bold;font-size:50px">–0.40334713</text>
<text x="1340" y="353" style="font-family:'Liberation Sans',Arial,sans-serif;font-weight:bold;font-size:50px">0.29832643</text>
<text x="1340" y="501.5" style="font-family:'Liberation Sans',Arial,sans-serif;font-weight:bold;font-size:50px">1.0</text>
<text transform="translate(97.2 468.0) rotate(-90)" x="0" y="0" style="font-family:'Liberation Sans',Arial,sans-serif;font-weight:bold;font-size:49.5px">–0.4589979</text>
<text transform="translate(244.8 465.7) rotate(-90)" x="0" y="0" style="font-family:'Liberation Sans',Arial,sans-serif;font-weight:bold;font-size:49.5px">0.27066755</text>
<text transform="translate(393.0 465.2) rotate(-90)" x="0" y="0" style="font-family:'Liberation Sans',Arial,sans-serif;font-weight:bold;font-size:49.5px">1.0</text>
<text x="1313.8" y="561.3" style="font-family:'Liberation Sans',Arial,sans-serif;font-weight:bold;font-size:63px">Proline</text>
<text x="1313.8" y="621.7" style="font-family:'Liberation Sans',Arial,sans-serif;font-weight:bold;font-size:63px">Phosphoric acid</text>
<text x="1313.8" y="682.1" style="font-family:'Liberation Sans',Arial,sans-serif;font-weight:bold;font-size:63px">Succinic acid</text>
<text x="1313.8" y="742.5" style="font-family:'Liberation Sans',Arial,sans-serif;font-weight:bold;font-size:63px">Butyric acid</text>
<text x="1313.8" y="802.9" style="font-family:'Liberation Sans',Arial,sans-serif;font-weight:bold;font-size:63px">Fumaric acid</text>
<text x="1313.8" y="863.3" style="font-family:'Liberation Sans',Arial,sans-serif;font-weight:bold;font-size:63px">Malic acid</text>
<text x="1313.8" y="923.7" style="font-family:'Liberation Sans',Arial,sans-serif;font-weight:bold;font-size:63px">C22:5n3</text>
<text x="1313.8" y="984.1" style="font-family:'Liberation Sans',Arial,sans-serif;font-weight:bold;font-size:63px">C20:4n6</text>
<text x="1313.8" y="1044.5" style="font-family:'Liberation Sans',Arial,sans-serif;font-weight:bold;font-size:63px">Valeric acid</text>
<text x="1313.8" y="1104.9" style="font-family:'Liberation Sans',Arial,sans-serif;font-weight:bold;font-size:63px">Aspartic acid</text>
<text x="1313.8" y="1165.3" style="font-family:'Liberation Sans',Arial,sans-serif;font-weight:bold;font-size:63px">C20:3n6</text>
<text x="1313.8" y="1225.7" style="font-family:'Liberation Sans',Arial,sans-serif;font-weight:bold;font-size:63px">C22:6n3</text>
<text x="1313.8" y="1286.1" style="font-family:'Liberation Sans',Arial,sans-serif;font-weight:bold;font-size:63px">C16:0</text>
<text x="1313.8" y="1346.5" style="font-family:'Liberation Sans',Arial,sans-serif;font-weight:bold;font-size:63px">Glycerol</text>
<text x="1313.8" y="1406.9" style="font-family:'Liberation Sans',Arial,sans-serif;font-weight:bold;font-size:63px">Threonine</text>
<text x="1313.8" y="1467.3" style="font-family:'Liberation Sans',Arial,sans-serif;font-weight:bold;font-size:63px">Indole</text>
<text x="1313.8" y="1527.7" style="font-family:'Liberation Sans',Arial,sans-serif;font-weight:bold;font-size:63px">C16:1</text>
<text x="1313.8" y="1588.1" style="font-family:'Liberation Sans',Arial,sans-serif;font-weight:bold;font-size:63px">C18:1</text>
<text x="1313.8" y="1648.5" style="font-family:'Liberation Sans',Arial,sans-serif;font-weight:bold;font-size:63px">C22:0</text>
<text x="1313.8" y="1708.9" style="font-family:'Liberation Sans',Arial,sans-serif;font-weight:bold;font-size:63px">Mannose</text>
<text x="1313.8" y="1769.3" style="font-family:'Liberation Sans',Arial,sans-serif;font-weight:bold;font-size:63px">C18:0</text>
<text x="1313.8" y="1829.7" style="font-family:'Liberation Sans',Arial,sans-serif;font-weight:bold;font-size:63px">C20:5n3</text>
<text x="1313.8" y="1890.1" style="font-family:'Liberation Sans',Arial,sans-serif;font-weight:bold;font-size:63px">C20:0</text>
<text x="1313.8" y="1950.5" style="font-family:'Liberation Sans',Arial,sans-serif;font-weight:bold;font-size:63px">Glutamic acid</text>
<text x="1313.8" y="2010.9" style="font-family:'Liberation Sans',Arial,sans-serif;font-weight:bold;font-size:63px">Inositol</text>
<text x="1313.8" y="2071.3" style="font-family:'Liberation Sans',Arial,sans-serif;font-weight:bold;font-size:63px">C12:0</text>
<text x="1313.8" y="2131.7" style="font-family:'Liberation Sans',Arial,sans-serif;font-weight:bold;font-size:63px">Acetic acid</text>
<text x="1313.8" y="2192.1" style="font-family:'Liberation Sans',Arial,sans-serif;font-weight:bold;font-size:63px">Isoleucine</text>
<text x="1313.8" y="2252.5" style="font-family:'Liberation Sans',Arial,sans-serif;font-weight:bold;font-size:63px">C14:0</text>
<text x="1313.8" y="2312.9" style="font-family:'Liberation Sans',Arial,sans-serif;font-weight:bold;font-size:63px">C18:2</text>
<text x="1313.8" y="2373.3" style="font-family:'Liberation Sans',Arial,sans-serif;font-weight:bold;font-size:63px">Iso valeric acid</text>
<text x="1313.8" y="2433.7" style="font-family:'Liberation Sans',Arial,sans-serif;font-weight:bold;font-size:63px">Pyruvic acid</text>
<text x="1313.8" y="2494.1" style="font-family:'Liberation Sans',Arial,sans-serif;font-weight:bold;font-size:63px">Serine</text>
<text x="1313.8" y="2554.5" style="font-family:'Liberation Sans',Arial,sans-serif;font-weight:bold;font-size:63px">C18:3</text>
<text x="1313.8" y="2614.9" style="font-family:'Liberation Sans',Arial,sans-serif;font-weight:bold;font-size:63px">Propionic acid</text>
<text x="1313.8" y="2675.3" style="font-family:'Liberation Sans',Arial,sans-serif;font-weight:bold;font-size:63px">Glycolic acid</text>
<text x="1313.8" y="2735.7" style="font-family:'Liberation Sans',Arial,sans-serif;font-weight:bold;font-size:63px">β-Alanine</text>
<text x="1313.8" y="2796.1" style="font-family:'Liberation Sans',Arial,sans-serif;font-weight:bold;font-size:63px">Quinic acid</text>
<text x="1313.8" y="2856.5" style="font-family:'Liberation Sans',Arial,sans-serif;font-weight:bold;font-size:63px">4-Aminobutyric acid</text>
<text x="1313.8" y="2916.9" style="font-family:'Liberation Sans',Arial,sans-serif;font-weight:bold;font-size:63px">Nicotinic acid</text>
<text x="1313.8" y="2977.3" style="font-family:'Liberation Sans',Arial,sans-serif;font-weight:bold;font-size:63px">Fructose</text>
<text x="1313.8" y="3037.7" style="font-family:'Liberation Sans',Arial,sans-serif;font-weight:bold;font-size:63px">Methionine</text>
<text x="1313.8" y="3098.1" style="font-family:'Liberation Sans',Arial,sans-serif;font-weight:bold;font-size:63px">Glycine</text>
<text x="1313.8" y="3158.5" style="font-family:'Liberation Sans',Arial,sans-serif;font-weight:bold;font-size:63px">Xylose</text>
<text x="1313.8" y="3218.9" style="font-family:'Liberation Sans',Arial,sans-serif;font-weight:bold;font-size:63px">Glyceric acid</text>
<text x="1313.8" y="3279.3" style="font-family:'Liberation Sans',Arial,sans-serif;font-weight:bold;font-size:63px">Glucose</text>
<text x="1313.8" y="3339.7" style="font-family:'Liberation Sans',Arial,sans-serif;font-weight:bold;font-size:63px">Phenylalanine</text>
<text x="1313.8" y="3400.1" style="font-family:'Liberation Sans',Arial,sans-serif;font-weight:bold;font-size:63px">Tryptophan</text>
<text x="1313.8" y="3460.5" style="font-family:'Liberation Sans',Arial,sans-serif;font-weight:bold;font-size:63px">Leucine</text>
<text x="1313.8" y="3520.9" style="font-family:'Liberation Sans',Arial,sans-serif;font-weight:bold;font-size:63px">Lactic acid</text>
<text x="1313.8" y="3581.3" style="font-family:'Liberation Sans',Arial,sans-serif;font-weight:bold;font-size:63px">Valine</text>
<text x="1313.8" y="3641.7" style="font-family:'Liberation Sans',Arial,sans-serif;font-weight:bold;font-size:63px">Alanine</text>
<text x="1313.8" y="3702.1" style="font-family:'Liberation Sans',Arial,sans-serif;font-weight:bold;font-size:63px">Sucrose</text>
<text x="1313.8" y="3762.5" style="font-family:'Liberation Sans',Arial,sans-serif;font-weight:bold;font-size:63px">Glutamine</text>
<text x="1313.8" y="3822.9" style="font-family:'Liberation Sans',Arial,sans-serif;font-weight:bold;font-size:63px">Trehalose</text>
<text transform="translate(582.8 3896.5) rotate(-45)" text-anchor="end" x="0" y="0" style="font-family:'Liberation Sans',Arial,sans-serif;font-weight:bold;font-size:63px">QCLB Vs. QC</text>
<text transform="translate(888.8 3897.0) rotate(-45)" text-anchor="end" x="0" y="0" style="font-family:'Liberation Sans',Arial,sans-serif;font-weight:bold;font-size:63px">QC Vs. C</text>
<text transform="translate(1193.6 3899.5) rotate(-45)" text-anchor="end" x="0" y="0" style="font-family:'Liberation Sans',Arial,sans-serif;font-weight:bold;font-size:63px">QCLB Vs. C</text>
</svg>
</body></html>
